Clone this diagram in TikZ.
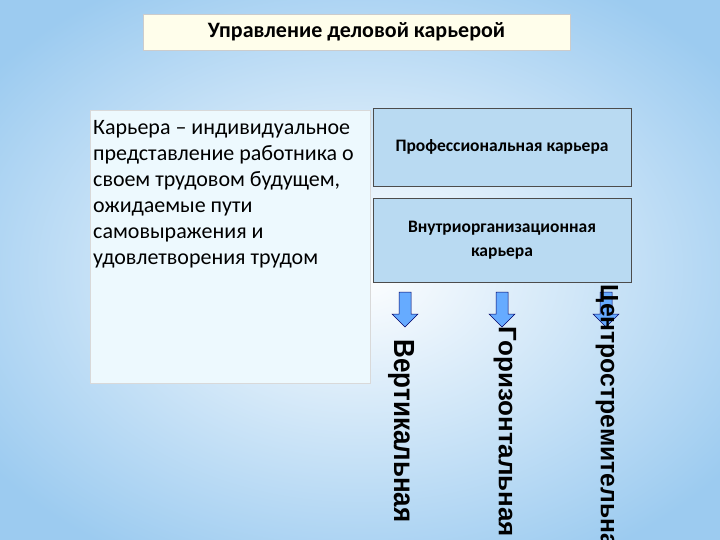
\documentclass[tikz,border=0pt]{standalone}
\usepackage{fontspec}
\setmainfont{Carlito}
\newfontfamily\arialb{Liberation Sans}
\definecolor{bx}{HTML}{B9DAF2}
\definecolor{bg}{HTML}{9CCBF0}
\begin{document}
\begin{tikzpicture}[x=1pt,y=-1pt,
  box/.style={draw=black!70,fill=bx,line width=0.8pt},
  arr/.style={draw=blue!40!black,fill=blue!55!cyan!60,line width=0.5pt},
  vt/.style={rotate=-90,font=\arialb\bfseries\fontsize{26}{26}\selectfont,anchor=center}]
\useasboundingbox (0,0) rectangle (720,540);
\shade[inner color=white,outer color=bg] (-100,-60) rectangle (820,600);
\node[draw=black!20,fill=yellow!8,minimum width=427,minimum height=36,font=\bfseries\fontsize{22}{24}\selectfont] (t) at (356.5,32) {Управление деловой карьерой};
\node[fill=cyan!7,draw=black!15,minimum width=280,minimum height=273,anchor=north west] (c) at (90,110) {};
\node[anchor=north west,align=left,font=\fontsize{22}{26}\selectfont,inner sep=0] (ct) at (93,120) {Карьера – индивидуальное\\представление работника о\\своем трудовом будущем,\\ожидаемые пути\\самовыражения и\\удовлетворения трудом};
\node[box,minimum width=258,minimum height=78,font=\bfseries\fontsize{17.5}{20}\selectfont] (p) at (502,147) {Профессиональная карьера};
\node[box,minimum width=258,minimum height=84,align=center,font=\bfseries\fontsize{17.5}{24}\selectfont] (v) at (502,240) {Внутриорганизационная\\карьера};
\foreach \n/\x in {a1/405,a2/502,a3/606}{
  \draw[arr] (\x-6,292) -- (\x+6,292) -- (\x+6,314) -- (\x+13,314) -- (\x,327) -- (\x-13,314) -- (\x-6,314) -- cycle;
}
\node[vt,yscale=1.12] (w1) at (401,431) {Вертикальная};
\node[vt,yscale=0.97] (w2) at (505,432) {Горизонтальная};
\node[vt,xscale=0.95,yscale=0.965] (w3) at (607,423) {Центростремительная};
\end{tikzpicture}
\end{document}
